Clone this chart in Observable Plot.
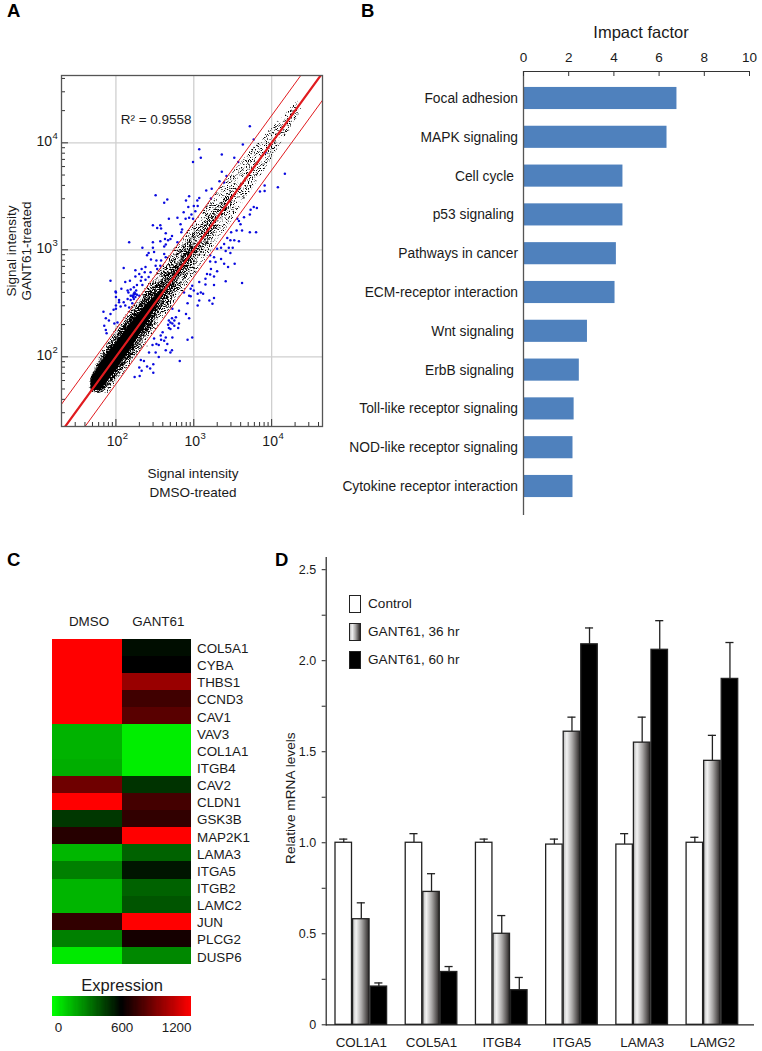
<!DOCTYPE html>
<html><head><meta charset="utf-8">
<script src="https://cdn.jsdelivr.net/npm/d3@7"></script>
<script src="https://cdn.jsdelivr.net/npm/@observablehq/plot@0.6"></script>
<style>
html,body{margin:0;padding:0;background:#fff;}
#page{position:relative;width:762px;height:1051px;overflow:hidden;font-family:"Liberation Sans",Arial,sans-serif;color:#1a1a1a;}
.panel{position:absolute;}
.panel svg{display:block;overflow:visible;}
.letter{position:absolute;font-weight:bold;font-size:18.5px;line-height:20px;color:#000;}
.lg{position:absolute;font-size:13.6px;line-height:16px;white-space:nowrap;}
.sw{position:absolute;width:10px;height:16px;border:1px solid #222;box-sizing:content-box;}
</style></head><body>
<svg width="0" height="0" style="position:absolute">
<defs>
<linearGradient id="g36" x1="0" x2="1" y1="0" y2="0">
<stop offset="0" stop-color="#bdbdbd"/><stop offset=".22" stop-color="#f2f2f2"/><stop offset=".55" stop-color="#a8a6a5"/><stop offset="1" stop-color="#2b2726"/>
</linearGradient>
<filter id="speckleFaint" x="-.02" y="-.02" width="1.04" height="1.04" color-interpolation-filters="sRGB">
<feTurbulence type="fractalNoise" baseFrequency="0.95" numOctaves="2" seed="4" result="n"/>
<feColorMatrix in="n" type="matrix" values="0 0 0 0 0 0 0 0 0 0 0 0 0 0 0 0 0 0 6 -3.2" result="m"/>
<feComposite in="SourceGraphic" in2="m" operator="in"/>
</filter>
<filter id="speckleSparse" x="-.02" y="-.02" width="1.04" height="1.04" color-interpolation-filters="sRGB">
<feTurbulence type="fractalNoise" baseFrequency="0.95" numOctaves="2" seed="7" result="n"/>
<feColorMatrix in="n" type="matrix" values="0 0 0 0 0 0 0 0 0 0 0 0 0 0 0 0 0 0 6 -2.9" result="m"/>
<feComposite in="SourceGraphic" in2="m" operator="in"/>
</filter>
<filter id="speckleDense" x="-.02" y="-.02" width="1.04" height="1.04" color-interpolation-filters="sRGB">
<feTurbulence type="fractalNoise" baseFrequency="0.95" numOctaves="2" seed="11" result="n"/>
<feColorMatrix in="n" type="matrix" values="0 0 0 0 0 0 0 0 0 0 0 0 0 0 0 0 0 0 6 -2.45" result="m"/>
<feComposite in="SourceGraphic" in2="m" operator="in"/>
</filter>
</defs>
</svg>
<div id="page">
<div class="letter" style="left:7px;top:1px">A</div>
<div class="letter" style="left:361px;top:1px">B</div>
<div class="letter" style="left:7px;top:550px">C</div>
<div class="letter" style="left:275px;top:550px">D</div>
</div>
<script>
const FONT = '"Liberation Sans",Arial,sans-serif';
const INK = "#1a1a1a";

// ---------- Panel A: scatter (values are log10 of signal intensity)
const decades = [100, 1000, 10000];
const exponents = ["2", "3", "4"];
const minorX = [30,40,50,60,70,80,90,200,300,400,500,600,700,800,900,2000,3000,4000,5000,6000,7000,8000,9000,20000,30000,40000];
const minorY = [30,40,50,60,70,80,90,200,300,400,500,600,700,800,900,2000,3000,4000,5000,6000,7000,8000,9000,20000,30000,40000];
const foldLines = [
  {name:"upper", pts:[[10,18],[60000,108000]]},
  {name:"equal", pts:[[10,10],[60000,60000]]},
  {name:"lower", pts:[[18,10],[108000,60000]]}
];
const faintX    = [1.66,1.70,1.80,1.90,2.00,2.20,2.40,2.60,2.80,3.00,3.20,3.40,3.60,3.80,4.00,4.20,4.35];
const faintLow  = [1.69,1.66,1.66,1.66,1.74,1.94,2.14,2.34,2.54,2.75,2.96,3.17,3.40,3.62,3.85,4.09,4.27];
const faintHigh = [1.76,1.84,2.02,2.14,2.26,2.46,2.66,2.86,3.06,3.25,3.44,3.63,3.81,3.98,4.14,4.29,4.40];
const sparseX   = [1.68,1.80,2.00,2.40,2.80,3.20,3.50];
const sparseLow = [1.68,1.66,1.78,2.18,2.62,3.08,3.44];
const sparseHigh= [1.80,2.00,2.22,2.62,2.98,3.32,3.56];
const denseX    = [1.68,1.80,2.00,2.40,2.70,3.00];
const denseLow  = [1.68,1.66,1.81,2.22,2.60,2.95];
const denseHigh = [1.80,1.97,2.19,2.58,2.80,3.05];
const solidX    = [1.68,1.80,2.00,2.20,2.40,2.60];
const solidLow  = [1.70,1.68,1.87,2.08,2.31,2.57];
const solidHigh = [1.78,1.94,2.13,2.32,2.49,2.63];
const blueLog = [
[1.996,2.61],[2.04,2.53],[2.0,2.48],[1.97,2.44],[1.84,2.42],[1.87,2.36],[1.91,2.34],[1.98,2.31],[2.02,2.32],[1.85,2.29],[1.87,2.25],[1.88,2.22],
[2.10,2.51],[2.15,2.54],[2.21,2.57],[2.25,2.59],[2.12,2.48],[2.19,2.53],[2.23,2.54],
[2.875,2.60],[2.94,2.57],[3.05,2.59],[2.92,2.50],[3.05,2.48],[2.725,2.45],[2.81,2.43],[2.90,2.40],[2.94,2.36],[2.77,2.37],[2.68,2.34],[2.725,2.31],[2.81,2.31],
[2.70,2.26],[2.60,2.23],[2.575,2.20],[2.64,2.18],[2.725,2.18],[2.49,2.17],[2.47,2.11],[2.55,2.11],[2.425,2.04],[2.51,2.04],[2.55,1.997],[2.64,2.06],[2.70,2.04],
[2.92,2.16],[2.98,2.18],[2.32,1.97],[2.36,1.96],[2.30,1.90],[2.33,1.87],[2.40,1.91],[2.44,1.89],[2.48,1.93],[2.48,1.85],[2.24,1.81],[2.305,1.82],[2.82,1.96],
[2.51,3.51],[2.62,3.44],[2.66,3.47],[2.94,3.50],[2.90,3.46],[3.07,3.485],[3.045,3.46],[2.93,3.40],[3.0,3.41],[3.05,3.41],[2.87,3.35],[2.97,3.33],[3.02,3.36],[2.94,3.30],[2.895,3.29],[2.99,3.29],
[2.68,3.29],[2.79,3.30],[2.475,3.23],[2.57,3.23],[2.53,3.205],[2.58,3.20],[2.83,3.24],[2.85,3.19],[2.84,3.165],[2.64,3.155],[2.72,3.13],[2.70,3.10],[2.63,3.10],[2.67,3.09],[2.57,3.08],[2.475,3.07],
[2.17,3.07],[2.64,3.05],[2.62,3.03],[2.34,3.02],[2.475,3.02],[2.79,3.07],[2.42,2.97],[2.49,2.98],[2.40,2.95],[2.62,2.96],[2.64,2.93],[2.52,2.90],[2.58,2.90],[2.45,2.91],[2.57,2.85],[2.51,2.85],
[2.10,2.83],[2.53,2.82],[2.38,2.84],[2.33,2.82],[2.25,2.81],[2.30,2.775],[2.37,2.79],[2.445,2.79],[2.33,2.745],[2.25,2.75],[2.42,2.745],[2.18,2.71],[2.12,2.70],[2.32,2.71],[2.38,2.72],
[2.27,2.67],[2.34,2.67],[2.23,2.65],[2.19,2.63],[2.07,2.635],[2.15,2.62],[2.23,2.59],[2.19,2.57],[2.25,2.56],[2.30,2.57],
[3.72,4.155],[3.63,3.985],[3.77,4.03],[3.07,3.94],[3.36,3.89],[3.09,3.86],[2.99,3.82],[3.52,3.86],[3.57,3.82],[3.36,3.73],[3.42,3.69],[3.33,3.64],[3.39,3.63],[3.23,3.57],[3.16,3.555],[3.22,3.48],
[3.92,3.91],[4.17,3.71],[3.91,3.60],[4.08,3.585],[3.85,3.545],[3.91,3.55],[3.77,3.40],[3.81,3.39],[3.73,3.375],[3.645,3.305],[3.56,3.29],
[3.72,3.33],[3.58,3.27],[3.60,3.24],[3.62,3.18],[3.55,3.18],[3.72,3.165],[3.80,3.165],[3.48,3.165],[3.43,3.11],[3.47,3.09],[3.52,3.09],[3.58,3.08],[3.39,3.055],[3.35,3.02],[3.45,3.02],[3.50,3.02],
[3.41,2.99],[3.47,2.97],[3.30,3.01],[3.21,2.95],[3.26,2.93],[3.35,2.915],[3.21,2.89],[3.28,2.885],[3.39,2.87],[3.525,2.87],[3.44,2.84],[3.22,2.82],[3.30,2.80],[3.17,2.775],[3.21,2.77],[3.26,2.75],
[3.41,2.705],[3.62,2.69],[3.15,2.73],[3.07,2.70],[3.26,2.67],[3.15,2.675],[2.98,2.665],[3.0,2.62],[2.96,2.635],[3.09,2.60],[3.12,2.59],[2.96,2.565],[3.07,2.525],[3.26,2.55],[3.20,2.525],[3.24,2.495],
[1.93,2.71],[2.0,2.60],[2.0,2.56],[2.04,2.51],[2.0,2.45],[2.24,2.60],[2.26,2.62],[2.27,2.58],[2.23,2.58],[2.22,2.56],[2.75,2.34],[2.70,2.32],[2.72,2.36],[2.67,2.30],[2.62,2.15],[2.72,2.06],[2.75,2.29],[2.68,2.27],
[2.16,2.60],[2.21,2.50],[2.17,2.46],[2.06,2.47],[1.93,2.40],[2.80,2.27],[2.58,2.16],[2.52,2.12],[2.66,2.12]
];
const blackLog = [[4.24,4.25],[4.30,4.33],[4.37,4.32],[4.25,4.20],[4.20,4.22],[4.31,4.23],[4.28,4.30],[4.15,4.20],[4.34,4.27],[4.22,4.12],[4.10,4.18],[4.05,4.14],[3.10,3.30],[2.75,2.78],[2.40,2.10]];
const rSquared = "R² = 0.9558";

const cloudRows = (xs, lo, hi) => xs.map((x,i)=>({x:10**x, lo:10**lo[i], hi:10**hi[i]}));
const A = Plot.plot({
  width:340, height:510, marginLeft:61, marginRight:18, marginTop:75, marginBottom:84,
  style:{fontFamily:FONT, background:"transparent", color:INK},
  x:{type:"log", domain:[20,45000], axis:null},
  y:{type:"log", domain:[22.3,42600], axis:null},
  marks:[
    Plot.ruleX(decades,{stroke:"#cfcfcf", strokeWidth:1.3}),
    Plot.ruleY(decades,{stroke:"#cfcfcf", strokeWidth:1.3}),
    Plot.areaY(cloudRows(faintX,faintLow,faintHigh),{x:"x",y1:"lo",y2:"hi",fill:"#000"}),
    Plot.areaY(cloudRows(sparseX,sparseLow,sparseHigh),{x:"x",y1:"lo",y2:"hi",fill:"#000"}),
    Plot.areaY(cloudRows(denseX,denseLow,denseHigh),{x:"x",y1:"lo",y2:"hi",fill:"#000"}),
    Plot.areaY(cloudRows(solidX,solidLow,solidHigh),{x:"x",y1:"lo",y2:"hi",fill:"#000"}),
    Plot.dot(blackLog,{x:d=>10**d[0],y:d=>10**d[1],r:0.5,fill:"#222"}),
    Plot.dot(blueLog,{x:d=>10**d[0],y:d=>10**d[1],r:1.25,fill:"#0a0ae0"}),
    ...foldLines.map(l=>Plot.line(l.pts,{x:d=>d[0],y:d=>d[1],stroke:"#e01b1f",strokeWidth:l.name==="equal"?2.2:1,clip:true})),
    Plot.ruleX(minorX,{insetTop:347,stroke:"#333",strokeWidth:1}),
    Plot.ruleY(minorY,{insetRight:257,stroke:"#333",strokeWidth:1}),
    Plot.ruleX(decades,{insetTop:344,stroke:"#333",strokeWidth:1}),
    Plot.ruleY(decades,{insetRight:254,stroke:"#333",strokeWidth:1}),
    Plot.frame({stroke:"#555",strokeWidth:1.3}),
    Plot.text(decades,{x:d=>d,frameAnchor:"bottom",lineAnchor:"middle",dy:15,dx:6.3,textAnchor:"end",text:()=>"10",fontSize:14,fill:INK}),
    Plot.text(decades,{x:d=>d,frameAnchor:"bottom",lineAnchor:"middle",dy:9,dx:6.8,textAnchor:"start",text:(d,i)=>exponents[i],fontSize:9.5,fill:INK}),
    Plot.text(decades,{y:d=>d,frameAnchor:"left",lineAnchor:"middle",dx:-9.5,dy:-1,textAnchor:"end",text:()=>"10",fontSize:14,fill:INK}),
    Plot.text(decades,{y:d=>d,frameAnchor:"left",lineAnchor:"middle",dx:-9,dy:-7,textAnchor:"start",text:(d,i)=>exponents[i],fontSize:9.5,fill:INK}),
    Plot.text([rSquared],{x:[115],y:[16500],text:d=>d,textAnchor:"start",fontSize:13.5,fill:INK}),
    Plot.text(["Signal intensity\nDMSO-treated"],{frameAnchor:"bottom",lineAnchor:"middle",dy:55,dx:1,text:d=>d,fontSize:13.5,lineHeight:1.42,fill:INK}),
    Plot.text(["Signal intensity\nGANT61-treated"],{frameAnchor:"left",lineAnchor:"middle",textAnchor:"middle",dx:-43,rotate:-90,text:d=>d,fontSize:13.5,lineHeight:1.12,fill:INK})
  ]
});
const areas = A.querySelectorAll('g[aria-label="area"]');
["speckleFaint","speckleSparse","speckleDense"].forEach((f,i)=>{ if (areas[i]) areas[i].setAttribute("filter",`url(#${f})`); });

// ---------- Panel B: impact factor bars
const pathways = ["Focal adhesion","MAPK signaling","Cell cycle","p53 signaling","Pathways in cancer","ECM-receptor interaction","Wnt signaling","ErbB signaling","Toll-like receptor signaling","NOD-like receptor signaling","Cytokine receptor interaction"];
const impact = [6.79,6.35,4.40,4.40,4.11,4.05,2.83,2.47,2.24,2.19,2.19];
const indented = ["Cell cycle","p53 signaling","Wnt signaling","ErbB signaling"];
const impactTicks = [0,2,4,6,8,10];
const impactRows = pathways.map((p,i)=>({p, v:impact[i]}));
const B = Plot.plot({
  width:422, height:530, marginLeft:183, marginRight:13, marginTop:71, marginBottom:15,
  style:{fontFamily:FONT, background:"transparent", color:INK, fontSize:"13.5px"},
  x:{domain:[0,10], axis:null},
  y:{type:"band", domain:pathways, range:[78.6,505.4], paddingInner:0.43, paddingOuter:0.215, axis:null, round:false},
  marks:[
    Plot.barX(impactRows,{x:"v",y:"p",fill:"#4f81bd"}),
    Plot.ruleX([0],{stroke:"#555",strokeWidth:1.3}),
    Plot.frame({anchor:"top",stroke:"#333",strokeWidth:1}),
    Plot.ruleX(impactTicks,{insetBottom:439,stroke:"#333",strokeWidth:1}),
    Plot.text(impactTicks,{x:d=>d,frameAnchor:"top",lineAnchor:"middle",dy:-14,text:d=>String(d),fontSize:13.5,fill:INK}),
    Plot.text(["Impact factor"],{x:[5.2],frameAnchor:"top",lineAnchor:"middle",dy:-39,text:d=>d,fontSize:16.5,fill:INK}),
    Plot.text(pathways.filter(p=>!indented.includes(p)),{y:d=>d,frameAnchor:"left",lineAnchor:"middle",dx:-5.5,textAnchor:"end",text:d=>d,fontSize:13.8,fill:INK}),
    Plot.text(indented,{y:d=>d,frameAnchor:"left",lineAnchor:"middle",dx:-9.5,textAnchor:"end",text:d=>d,fontSize:13.8,fill:INK})
  ]
});

// ---------- Panel C: heat map
const genes = ["COL5A1","CYBA","THBS1","CCND3","CAV1","VAV3","COL1A1","ITGB4","CAV2","CLDN1","GSK3B","MAP2K1","LAMA3","ITGA5","ITGB2","LAMC2","JUN","PLCG2","DUSP6"];
const dmso =   [1200,1200,1200,1200,1200,180,180,190,860,1200,470,690,170,300,175,175,715,300,50];
const gant61 = [570,600,960,750,810,40,40,40,480,760,715,1200,370,550,370,400,1200,650,280];
const heatColor = {type:"linear", domain:[0,600,1200], range:["#00ff00","#000000","#ff0000"], interpolate:"rgb"};
const heatRows = genes.flatMap((g,i)=>[{g,c:"DMSO",v:dmso[i]},{g,c:"GANT61",v:gant61[i]}]);
const C = Plot.plot({
  width:262, height:370, marginLeft:52.3, marginRight:71, marginTop:38.7, marginBottom:5.7,
  style:{fontFamily:FONT, background:"transparent", color:INK},
  x:{type:"band", domain:["DMSO","GANT61"], axis:null, padding:0, round:false},
  y:{type:"band", domain:genes, axis:null, padding:0, round:false},
  color:heatColor,
  marks:[
    Plot.cell(heatRows,{x:"c",y:"g",fill:"v",shapeRendering:"crispEdges"}),
    Plot.text(["DMSO","GANT61"],{x:d=>d,frameAnchor:"top",lineAnchor:"middle",dy:-17,dx:1.5,text:d=>d,fontSize:13.4,fill:INK}),
    Plot.text(genes,{y:d=>d,frameAnchor:"right",lineAnchor:"middle",dx:5.5,dy:1,textAnchor:"start",text:d=>d,fontSize:13.4,fill:INK})
  ]
});

// colour key
const keySteps = d3.range(0,1200,10);
const Key = Plot.plot({
  width:262, height:60, marginLeft:52.3, marginRight:71, marginTop:20.7, marginBottom:19,
  style:{fontFamily:FONT, background:"transparent", color:INK},
  x:{domain:[0,1200], axis:null},
  color:heatColor,
  marks:[
    Plot.rect(keySteps,{x1:d=>d,x2:d=>d+10.5,fill:d=>d+5,shapeRendering:"crispEdges"}),
    Plot.text(["Expression"],{x:[600],frameAnchor:"top",lineAnchor:"middle",dy:-10,text:d=>d,fontSize:16.5,fill:INK}),
    Plot.text([0],{x:d=>d,frameAnchor:"bottom",lineAnchor:"middle",dy:11,dx:2,textAnchor:"start",text:d=>String(d),fontSize:13.4,fill:INK}),
    Plot.text([600],{x:d=>d,frameAnchor:"bottom",lineAnchor:"middle",dy:11,text:d=>String(d),fontSize:13.4,fill:INK}),
    Plot.text([1200],{x:d=>d,frameAnchor:"bottom",lineAnchor:"middle",dy:11,textAnchor:"end",text:d=>String(d),fontSize:13.4,fill:INK})
  ]
});

// ---------- Panel D: grouped bars with error bars
const targets = ["COL1A1","COL5A1","ITGB4","ITGA5","LAMA3","LAMG2"];
const treatments = ["Control","GANT61, 36 hr","GANT61, 60 hr"];
const control   = [1.00,1.00,1.00,0.99,0.99,1.00];
const controlHi = [1.02,1.05,1.02,1.02,1.05,1.03];
const h36       = [0.58,0.73,0.50,1.61,1.55,1.45];
const h36Hi     = [0.67,0.83,0.60,1.69,1.69,1.59];
const h60       = [0.21,0.29,0.19,2.09,2.06,1.90];
const h60Hi     = [0.23,0.32,0.26,2.18,2.22,2.10];
const rowsD = targets.flatMap((g,i)=>[
  {k:g+"|"+treatments[0],t:treatments[0],v:control[i],hi:controlHi[i]},
  {k:g+"|"+treatments[1],t:treatments[1],v:h36[i],hi:h36Hi[i]},
  {k:g+"|"+treatments[2],t:treatments[2],v:h60[i],hi:h60Hi[i]}
]);
const slots = targets.flatMap((g,i)=>[...treatments.map(t=>g+"|"+t), ...(i<targets.length-1?["gap"+i]:[])]);
const yTicksD = [0,0.25,0.5,0.75,1,1.25,1.5,1.75,2,2.25,2.5];
const fmtD = d => d===0 ? "0" : (d*2%1===0 ? d.toFixed(1) : "");
const barStyle = {x:"k",y:"v",stroke:"#222",strokeWidth:1.3};
const D = Plot.plot({
  width:492, height:501, marginLeft:55.7, marginRight:8, marginTop:7, marginBottom:26.7,
  style:{fontFamily:FONT, background:"transparent", color:INK},
  x:{type:"band", domain:slots, range:[65,467.7], paddingInner:0.06, paddingOuter:0, round:false, axis:null},
  y:{domain:[0,2.567], axis:null},
  marks:[
    Plot.ruleX(rowsD,{x:"k",y1:"v",y2:"hi",stroke:"#222",strokeWidth:1.3}),
    Plot.tickY(rowsD,{x:"k",y:"hi",stroke:"#222",strokeWidth:1.3,insetLeft:4.2,insetRight:4.2}),
    Plot.barY(rowsD.filter(d=>d.t===treatments[0]),{...barStyle,fill:"#fff"}),
    Plot.barY(rowsD.filter(d=>d.t===treatments[1]),{...barStyle,fill:"url(#g36)"}),
    Plot.barY(rowsD.filter(d=>d.t===treatments[2]),{...barStyle,fill:"#000"}),
    Plot.ruleY([0],{stroke:"#222",strokeWidth:1.3}),
    Plot.frame({anchor:"left",stroke:"#222",strokeWidth:1.2}),
    Plot.axisY({ticks:yTicksD,tickSize:4,tickPadding:6,tickFormat:fmtD,label:null,fontSize:12.5,stroke:"#222"}),
    Plot.text(targets,{x:g=>g+"|"+treatments[1],frameAnchor:"bottom",lineAnchor:"middle",dy:18.4,text:d=>d,fontSize:13.4,fill:INK}),
    Plot.text(["Relative mRNA levels"],{frameAnchor:"left",lineAnchor:"middle",textAnchor:"middle",dx:-35.5,dy:7,rotate:-90,text:d=>d,fontSize:13.7,fill:INK})
  ]
});

const page = document.getElementById("page");
function place(node,left,top){const d=document.createElement("div");d.className="panel";d.style.left=left+"px";d.style.top=top+"px";d.appendChild(node);page.appendChild(d);}
place(A,0,0); place(B,340,0); place(C,0,600); place(Key,0,975); place(D,270,550);

// legend for panel D
const swatchFill = ["#fff","linear-gradient(90deg,#bdbdbd,#f2f2f2 22%,#a8a6a5 55%,#2b2726)","#000"];
const swatchTop = [595,623,651];
treatments.forEach((t,i)=>{
  const s=document.createElement("div");s.className="sw";s.style.left="349px";s.style.top=swatchTop[i]+"px";s.style.background=swatchFill[i];page.appendChild(s);
  const l=document.createElement("div");l.className="lg";l.style.left="368px";l.style.top=(swatchTop[i]+1)+"px";l.textContent=t;page.appendChild(l);
});
</script>
</body></html>
